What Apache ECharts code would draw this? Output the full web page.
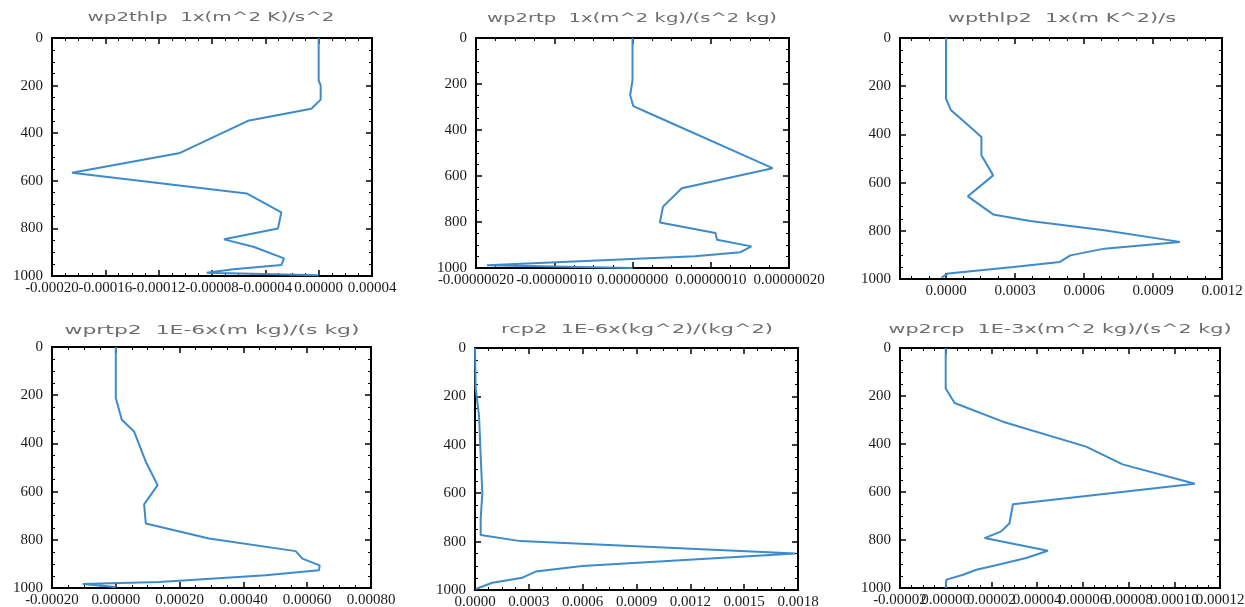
<!DOCTYPE html>
<html>
<head>
<meta charset="utf-8">
<script src="https://cdn.jsdelivr.net/npm/echarts@6/dist/echarts.min.js"></script>
<style>
  html, body { margin: 0; padding: 0; background: #fff; }
  #chart { width: 1245px; height: 607px; }
</style>
</head>
<body>
<div id="chart"></div>
<script>
// panel titles, left to right, top to bottom
const titles = [
  'wp2thlp  1x(m^2 K)/s^2',
  'wp2rtp  1x(m^2 kg)/(s^2 kg)',
  'wpthlp2  1x(m K^2)/s',
  'wprtp2  1E-6x(m kg)/(s kg)',
  'rcp2  1E-6x(kg^2)/(kg^2)',
  'wp2rcp  1E-3x(m^2 kg)/(s^2 kg)'
]

// vertical axis (depth), same for all panels
const depthTicks = [0, 200, 400, 600, 800, 1000]

// x axis ranges and tick labels
const xMin = [-0.0002, -0.0000002, -0.0002, -0.0002, 0, -0.00002]
const xMax = [0.00004, 0.0000002, 0.0012, 0.0008, 0.0018, 0.00012]
const xTicks = [
  [-0.0002, -0.00016, -0.00012, -0.00008, -0.00004, 0, 0.00004],
  [-0.0000002, -0.0000001, 0, 0.0000001, 0.0000002],
  [0, 0.0003, 0.0006, 0.0009, 0.0012],
  [-0.0002, 0, 0.0002, 0.0004, 0.0006, 0.0008],
  [0, 0.0003, 0.0006, 0.0009, 0.0012, 0.0015, 0.0018],
  [-0.00002, 0, 0.00002, 0.00004, 0.00006, 0.00008, 0.0001, 0.00012]
]
const xDecimals = [5, 8, 4, 5, 4, 5]

// profiles: depth values and the matching x values
const wp2thlpZ = [0, 178, 199, 259, 297, 348, 483, 566, 653, 733, 800, 846, 877, 926, 954, 972, 986, 997]
const wp2thlpX = [0, 0, 0.0000015, 0.0000015, -0.0000055, -0.000053, -0.000104, -0.000185, -0.000054, -0.000028,
  -0.0000305, -0.000071, -0.000049, -0.000026, -0.000028, -0.000064, -0.000084, 0]

const wp2rtpZ = [0, 184, 249, 296, 325, 566, 653, 733, 802, 848, 877, 906, 931, 949, 988, 1000]
const wp2rtpX = [0, 0, -0.000000003, 0.000000001, 0.00000002, 0.000000179, 0.000000063, 0.000000039, 0.000000035,
  0.000000106, 0.000000108, 0.000000152, 0.000000138, 0.00000008, -0.000000186, 0]

const wpthlp2Z = [0, 252, 300, 355, 411, 487, 570, 657, 732, 759, 798, 846, 874, 902, 929, 950, 977, 994]
const wpthlp2X = [0, 0, 0.000022, 0.000088, 0.000154, 0.000154, 0.000205, 0.000095, 0.000205, 0.000366, 0.000688,
  0.001017, 0.000688, 0.000541, 0.000495, 0.000293, 0.00001, -0.00002]

const wprtp2Z = [0, 212, 302, 351, 476, 573, 653, 732, 795, 847, 878, 906, 926, 947, 975, 983, 996]
const wprtp2X = [0, 0, 0.0000188, 0.0000574, 0.000094, 0.000131, 0.0000888, 0.000094, 0.000292, 0.000564, 0.000585,
  0.000639, 0.000637, 0.00047, 0.000136, -0.000104, 0]

const rcp2Z = [0, 168, 278, 443, 601, 704, 773, 798, 849, 901, 924, 949, 970, 996]
const rcp2X = [0, 0.0000037, 0.0000223, 0.0000316, 0.0000409, 0.0000316, 0.0000316, 0.000254, 0.001787, 0.000598,
  0.000338, 0.000264, 0.0000966, 0.0000037]

const wp2rcpZ = [0, 169, 229, 307, 411, 485, 566, 651, 730, 764, 792, 845, 875, 900, 924, 945, 965, 1000]
const wp2rcpX = [0, 0, 0.0000039, 0.000025, 0.0000614, 0.0000774, 0.000109, 0.0000294, 0.0000279, 0.0000243,
  0.000017, 0.0000447, 0.0000352, 0.0000243, 0.0000134, 0.0000076, 0.0000003, 0]

const profiles = [
  [wp2thlpX, wp2thlpZ], [wp2rtpX, wp2rtpZ], [wpthlp2X, wpthlp2Z],
  [wprtp2X, wprtp2Z], [rcp2X, rcp2Z], [wp2rcpX, wp2rcpZ]
]

// layout: plot box [left, top, width, height] and title centre/width
const boxes = [
  [52, 38, 320, 238], [476, 38, 313, 230], [900, 38, 322, 241],
  [52, 347, 319, 241], [475, 348, 323, 242], [900, 348, 320, 240]
]
const titlePos = [[211, 18, 247], [632, 19, 290], [1062, 19, 228], [212, 331, 295], [637, 330, 272], [1060, 330, 343]]

const LINE_COLOR = '#3d8bcb'
const TITLE_FONT = 'DejaVu Sans'
const TICK_FONT = 'Liberation Serif'

// minor ticks: 4 subdivisions of the major step, inside [min, max]
function minorValues (major, min, max) {
  const step = (major[1] - major[0]) / 4
  const out = []
  const k0 = Math.ceil((min - major[0]) / step - 1e-6)
  const k1 = Math.floor((max - major[0]) / step + 1e-6)
  for (let k = k0; k <= k1; k++) {
    if (k % 4 === 0) continue
    out.push(major[0] + k * step)
  }
  return out
}

// ticks at tickVals; optional labels at labelVals
function makeAxis (type, grid, pos, min, max, tickVals, len, labelVals, formatter) {
  const axis = {
    type: 'value',
    gridIndex: grid,
    position: pos,
    min: min,
    max: max,
    axisLine: { show: false, onZero: false },
    splitLine: { show: false },
    axisTick: {
      show: true,
      inside: true,
      length: len,
      customValues: tickVals,
      lineStyle: { color: '#000', width: len > 4 ? 1.5 : 1 }
    },
    axisLabel: { show: false }
  }
  if (type === 'y') axis.inverse = true
  if (labelVals) {
    axis.axisLabel = {
      show: true,
      customValues: labelVals,
      formatter: formatter,
      showMinLabel: true,
      showMaxLabel: true,
      hideOverlap: false,
      fontFamily: TICK_FONT,
      fontSize: 15,
      color: '#1a1a1a',
      margin: type === 'y' ? 9 : 5
    }
  }
  return axis
}

const measure = document.createElement('canvas').getContext('2d')
measure.font = '12px "' + TITLE_FONT + '"'

const grids = []
const xAxes = []
const yAxes = []
const series = []
const graphics = []

titles.forEach((title, i) => {
  const b = boxes[i]
  grids.push({
    left: b[0], top: b[1], width: b[2], height: b[3],
    show: true, borderColor: '#000', borderWidth: 2,
    outerBoundsMode: 'none'
  })

  const xMajor = xTicks[i]
  const xMinor = minorValues(xMajor, xMin[i], xMax[i])
  const yMinor = minorValues(depthTicks, 0, 1000)
  const dec = xDecimals[i]
  const fmtX = v => v.toFixed(dec)
  // crowded x labels overprint in the original: split them over two axes
  // so that none of them gets dropped for overlapping its neighbour
  const evenLabels = xMajor.filter((v, k) => k % 2 === 0)
  const oddLabels = xMajor.filter((v, k) => k % 2 === 1)

  const xa = xAxes.length
  xAxes.push(makeAxis('x', i, 'bottom', xMin[i], xMax[i], xMajor, 6, evenLabels, fmtX))
  xAxes.push(makeAxis('x', i, 'bottom', xMin[i], xMax[i], xMinor, 3, oddLabels, fmtX))
  xAxes.push(makeAxis('x', i, 'top', xMin[i], xMax[i], xMajor, 6))
  xAxes.push(makeAxis('x', i, 'top', xMin[i], xMax[i], xMinor, 3))

  const ya = yAxes.length
  yAxes.push(makeAxis('y', i, 'left', 0, 1000, depthTicks, 6, depthTicks, v => String(v)))
  yAxes.push(makeAxis('y', i, 'left', 0, 1000, yMinor, 3))
  yAxes.push(makeAxis('y', i, 'right', 0, 1000, depthTicks, 6))
  yAxes.push(makeAxis('y', i, 'right', 0, 1000, yMinor, 3))

  const [px, pz] = profiles[i]
  series.push({
    type: 'line',
    xAxisIndex: xa,
    yAxisIndex: ya,
    data: px.map((v, k) => [v, pz[k]]),
    symbol: 'none',
    showSymbol: false,
    clip: false,
    silent: true,
    lineStyle: { color: LINE_COLOR, width: 2 }
  })

  // title text is stretched horizontally like the original plot font
  const tp = titlePos[i]
  const w = measure.measureText(title).width
  graphics.push({
    type: 'text',
    x: tp[0],
    y: tp[1],
    scaleX: tp[2] / w,
    silent: true,
    style: {
      text: title,
      fontFamily: TITLE_FONT,
      fontSize: 12,
      fill: '#6e6e6e',
      textAlign: 'center',
      textVerticalAlign: 'middle'
    }
  })
})

const chart = echarts.init(document.getElementById('chart'))
chart.setOption({
  animation: false,
  backgroundColor: '#fff',
  grid: grids,
  xAxis: xAxes,
  yAxis: yAxes,
  series: series,
  graphic: graphics
})
</script>
</body>
</html>
